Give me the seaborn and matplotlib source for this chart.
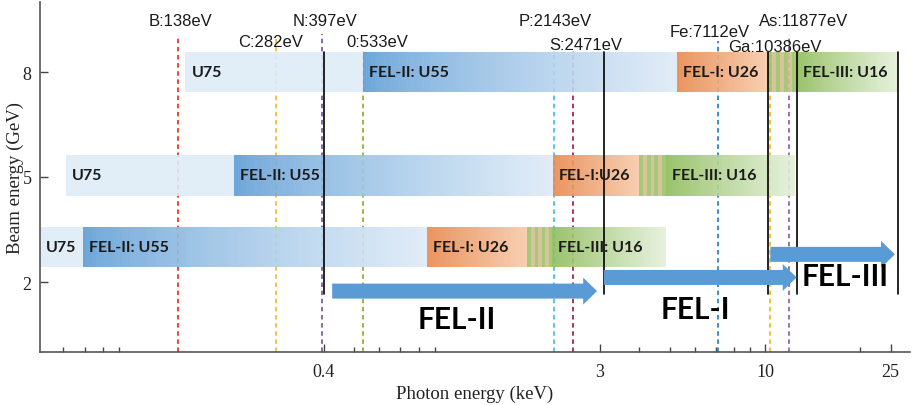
import numpy as np
import pandas as pd
import matplotlib
matplotlib.use("Agg")
import matplotlib.pyplot as plt
import matplotlib.colors as mcolors
import seaborn as sns

# ---------------- data ----------------
beam_energy = [8, 5, 2]                       # GeV (tick labels)
row_pos = [8.0, 5.05, 3.0]                    # plotting row centres

# segment boundaries per row (keV): U75 | U55 | U26 | mixed | U16
row_edges = {
    8: [0.146, 0.533, 5.27, 10.2, 12.6, 26.4],
    5: [0.0611, 0.208, 2.13, 3.99, 4.86, 12.45],
    2: [0.0506, 0.0692, 0.851, 1.77, 2.12, 4.86],
}
row_labels = {
    8: ["U75", "FEL-II: U55", "FEL-I: U26", "", "FEL-III: U16"],
    5: ["U75", "FEL-II: U55", "FEL-I:U26", "", "FEL-III: U16"],
    2: ["U75", "FEL-II: U55", "FEL-I: U26", "", "FEL-III: U16"],
}

elements = ["B", "C", "N", "0", "P", "S", "Fe", "Ga", "As"]
edge_ev = [138, 282, 397, 533, 2143, 2471, 7112, 10386, 11877]
edge_colors = ["#e8382c", "#f2c12e", "#7d5ea8", "#9aad3c", "#4fc1df",
               "#a3294f", "#2e86c1", "#f2c01e", "#8e6aa6"]
label_y = [9.46, 8.86, 9.46, 8.86, 9.46, 8.80, 9.17, 8.74, 9.46]
label_dx_px = [3, -5, 3, 14, 1, 13, -9, 5, 15]
line_top = [9.05, 8.95, 9.1, 8.6, 8.6, 8.6, 8.9, 8.6, 9.05]

boundary_kev = [0.4, 3.1, 10.2, 12.6, 26.4]

arrow_names = ["FEL-II", "FEL-I", "FEL-III"]
arrow_start = [0.426, 3.09, 10.4]
arrow_end = [2.94, 12.6, 25.8]
arrow_y = [1.74, 2.13, 2.79]
name_x = [1.06, 6.0, 17.9]
name_y = [0.94, 1.23, 2.17]

x_major = [0.4, 3, 10, 25]
x_minor = [0.06, 0.07, 0.08, 0.09, 0.5, 0.6, 0.7, 0.8, 0.9,
           4, 5, 6, 7, 8, 9, 20]

# ---------------- style ----------------
sns.set_theme(style="white")
plt.rcParams["font.family"] = ["Liberation Serif", "DejaVu Serif"]

fig = plt.figure(figsize=(9.13, 4.06), dpi=100)
ax = fig.add_axes([40 / 913, 1 - 353 / 406, 870 / 913, 350 / 406])
ax.set_xscale("log")
ax.set_xlim(0.0506, 28.8)
ax.set_ylim(0, 10)

BAR_H = 1.17
light_blue = "#deebf7"


def blend(c0, c1, t):
    a = np.array(mcolors.to_rgb(c0))
    b = np.array(mcolors.to_rgb(c1))
    return tuple(a + (b - a) * t)


def gradient_segment(x0, x1, y, c0, c1, gamma=1.0, n=80):
    e = np.logspace(np.log10(x0), np.log10(x1), n + 1)
    t = (np.arange(n) + 0.5) / n
    cols = [blend(c0, c1, tt ** gamma) for tt in t]
    ax.barh([y] * n, np.diff(e), left=e[:-1], height=BAR_H, color=cols,
            linewidth=0, antialiased=False, alpha=0.9, zorder=2)


def striped_segment(x0, x1, y, n=7):
    e = np.logspace(np.log10(x0), np.log10(x1), n + 1)
    cols = ["#9cc46b" if i % 2 == 0 else "#d3bf8e" for i in range(n)]
    ax.barh([y] * n, np.diff(e), left=e[:-1], height=BAR_H, color=cols,
            linewidth=0, antialiased=False, alpha=0.9, zorder=2)


# element edge lines + labels
for name, ev, col, ly, dx, top in zip(elements, edge_ev, edge_colors,
                                      label_y, label_dx_px, line_top):
    xk = ev / 1000
    ax.plot([xk, xk], [0, top], color=col, lw=1.3,
            linestyle=(0, (2.5, 2.0)), zorder=1)
    ax.annotate(f"{name}:{ev}eV", xy=(xk, ly), xytext=(dx * 0.72, 0),
                textcoords="offset points", ha="center", va="center",
                fontsize=12, family=["Liberation Sans", "DejaVu Sans"],
                color="#1a1a1a", zorder=6)

# bars
for be, yc in zip(beam_energy, row_pos):
    ed = row_edges[be]
    labs = row_labels[be]
    ax.barh(yc, ed[1] - ed[0], left=ed[0], height=BAR_H, color=light_blue,
            linewidth=0, alpha=0.9, zorder=2)
    gradient_segment(ed[1], ed[2], yc, "#5b9bd5", light_blue, gamma=0.75)
    gradient_segment(ed[2], ed[3], yc, "#e8894f", "#f7caa9", gamma=1.0)
    striped_segment(ed[3], ed[4], yc)
    gradient_segment(ed[4], ed[5], yc, "#8dbb58", "#e4f0da", gamma=0.9)
    for lab, x0 in zip(labs, ed[:-1]):
        if lab:
            ax.annotate(lab, xy=(x0, yc), xytext=(4.5, 0),
                        textcoords="offset points", ha="left", va="center",
                        fontsize=11.5, fontweight="bold",
                        family=["Lato", "DejaVu Sans"], color="#1a1a1a",
                        zorder=7)

# black boundary lines
for xb in boundary_kev:
    ax.plot([xb, xb], [1.65, row_pos[0] + BAR_H / 2], color="black",
            lw=1.2, zorder=5)

# arrows
for nm, xs, xe, ya, nx, ny in zip(arrow_names, arrow_start, arrow_end,
                                  arrow_y, name_x, name_y):
    ax.annotate("", xy=(xe, ya), xytext=(xs, ya),
                arrowprops=dict(arrowstyle="simple,head_length=1.0,"
                                "head_width=1.94,tail_width=1.08",
                                mutation_scale=10, color="#5b9bd5",
                                shrinkA=0, shrinkB=0, lw=0),
                zorder=6)
    ax.text(nx, ny, nm, ha="center", va="center", fontsize=21.5,
            fontweight="bold", family=["Lato", "DejaVu Sans"],
            color="black", zorder=7)

# axes cosmetics
ax.set_xticks(x_major)
ax.set_xticklabels([str(v) for v in x_major])
ax.set_xticks(x_minor, minor=True)
ax.set_xticklabels([], minor=True)
ax.set_yticks([2, 5, 8])
ax.set_yticklabels([str(v) for v in [2, 5, 8]])
ax.tick_params(axis="both", which="major", direction="in", length=6,
               width=1, color="#444444", labelsize=13, labelcolor="#222222",
               bottom=True, left=True)
ax.tick_params(axis="x", which="major", pad=8)
ax.tick_params(axis="y", which="major", pad=6)
ax.tick_params(axis="x", which="minor", direction="in", length=3.5,
               width=1, color="#444444", bottom=True)
for s in ["top", "right"]:
    ax.spines[s].set_visible(False)
for s in ["left", "bottom"]:
    ax.spines[s].set_color("#555555")
    ax.spines[s].set_linewidth(1.2)
ax.set_xlabel("Photon energy (keV)", fontsize=13.5, color="#222222",
              labelpad=3)
ax.set_ylabel("Beam energy (GeV)", fontsize=13.5, color="#222222",
              labelpad=1)
ax.yaxis.set_label_coords(-0.0185, 0.5)
ax.grid(False)

fig.savefig("out.png", dpi=100)
